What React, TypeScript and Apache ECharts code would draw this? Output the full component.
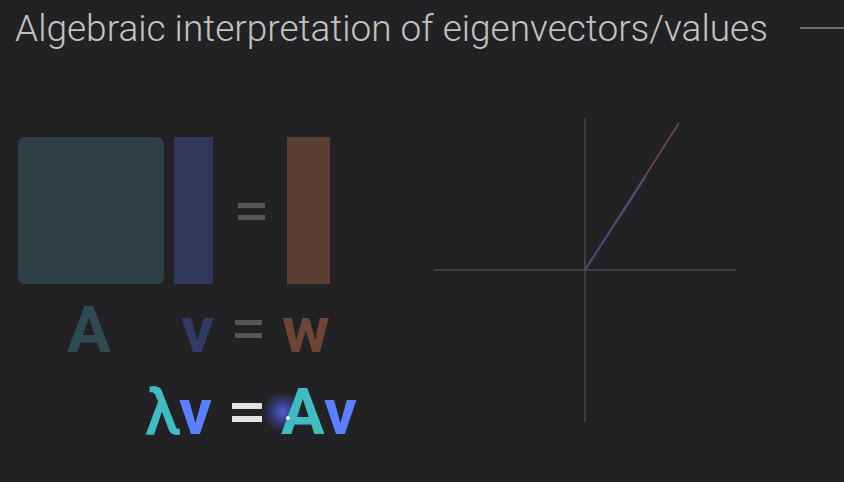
import React, { useEffect, useRef } from "react";
import * as echarts from "echarts";

// vector data (in plot units)
const origin: [number, number] = [0, 0];
const vecV: [number, number] = [1.22, 1.86];
const vecW: [number, number] = [1.88, 2.92];
const axisRange = [-3, 3];

const titleText = "Algebraic interpretation of eigenvectors/values";
const labelsTop = ["A", "v", "=", "w"];
const labelsBottom = ["λ", "v", "=", "A", "v"];

const BG = "#222224";

export default function App() {
  const ref = useRef<HTMLDivElement>(null);
  useEffect(() => {
    document.body.style.margin = "0";
    const chart = echarts.init(ref.current!, null, { renderer: "svg" });
    const font = "Roboto";
    const big = (t: string, x: number, y: number, color: string, weight = "bold") => ({
      type: "text",
      x,
      y,
      style: {
        text: t,
        fill: color,
        font: `${weight} 65px ${font}`,
        textAlign: "left",
        textVerticalAlign: "bottom",
      },
    });
    chart.setOption({
      animation: false,
      backgroundColor: BG,
      title: {
        text: titleText,
        left: 10,
        top: 5,
        textStyle: { color: "#c2c2c2", fontFamily: font, fontWeight: 300, fontSize: 37 },
      },
      grid: { left: 435, top: 119, width: 300, height: 302 },
      xAxis: {
        type: "value",
        min: axisRange[0],
        max: axisRange[1],
        axisLine: { onZero: true, lineStyle: { color: "#4a4a4c", width: 1.5 } },
        axisTick: { show: false },
        axisLabel: { show: false },
        splitLine: { show: false },
      },
      yAxis: {
        type: "value",
        min: axisRange[0],
        max: axisRange[1],
        axisLine: { onZero: true, lineStyle: { color: "#4a4a4c", width: 1.5 } },
        axisTick: { show: false },
        axisLabel: { show: false },
        splitLine: { show: false },
      },
      series: [
        {
          type: "line",
          name: "w",
          data: [origin, vecW],
          symbol: "none",
          lineStyle: { color: "#6b4535", width: 1.8 },
        },
        {
          type: "line",
          name: "v",
          data: [origin, vecV],
          symbol: "none",
          lineStyle: { color: "#434a85", width: 1.8 },
        },
      ],
      graphic: [
        { type: "line", shape: { x1: 800, y1: 28, x2: 844, y2: 28 }, style: { stroke: "#8a8a8a", lineWidth: 1.5 } },
        { type: "rect", shape: { x: 18, y: 137, width: 146, height: 147, r: 7 }, style: { fill: "#2e3f46" } },
        { type: "rect", shape: { x: 174, y: 137, width: 39, height: 147 }, style: { fill: "#30375a" } },
        { type: "rect", shape: { x: 238, y: 203, width: 27, height: 5 }, style: { fill: "#575759" } },
        { type: "rect", shape: { x: 238, y: 215, width: 27, height: 5 }, style: { fill: "#575759" } },
        { type: "rect", shape: { x: 287, y: 137, width: 43, height: 147 }, style: { fill: "#5a3d33" } },
        big(labelsTop[0], 67, 362, "#2e4a52"),
        big(labelsTop[1], 181, 362, "#2f3a66"),
        { type: "rect", shape: { x: 235, y: 320, width: 27, height: 5 }, style: { fill: "#555557" } },
        { type: "rect", shape: { x: 235, y: 333, width: 27, height: 5 }, style: { fill: "#555557" } },
        big(labelsTop[3], 282, 362, "#6b4535"),
        big(labelsBottom[0], 145, 444, "#3fbcc2", "500"),
        big(labelsBottom[1], 179, 444, "#5a80ff"),
        { type: "rect", shape: { x: 232, y: 403, width: 30, height: 6 }, style: { fill: "#e2e2e2" } },
        { type: "rect", shape: { x: 232, y: 416, width: 30, height: 6 }, style: { fill: "#e2e2e2" } },
        {
          type: "circle",
          shape: { cx: 283, cy: 412, r: 20 },
          style: {
            fill: new echarts.graphic.RadialGradient(0.5, 0.5, 0.5, [
              { offset: 0, color: "rgba(100,110,255,0.8)" },
              { offset: 0.5, color: "rgba(80,90,230,0.45)" },
              { offset: 1, color: "rgba(80,90,230,0)" },
            ]),
          },
        },
        big(labelsBottom[3], 281, 444, "#3fbcc2"),
        big(labelsBottom[4], 324, 444, "#5a80ff"),
        { type: "circle", shape: { cx: 288, cy: 418, r: 2 }, style: { fill: "#f0f0ff" } },
      ],
    });
    return () => chart.dispose();
  }, []);
  return <div ref={ref} style={{ position: "absolute", left: 0, top: 0, width: 844, height: 482 }} />;
}
